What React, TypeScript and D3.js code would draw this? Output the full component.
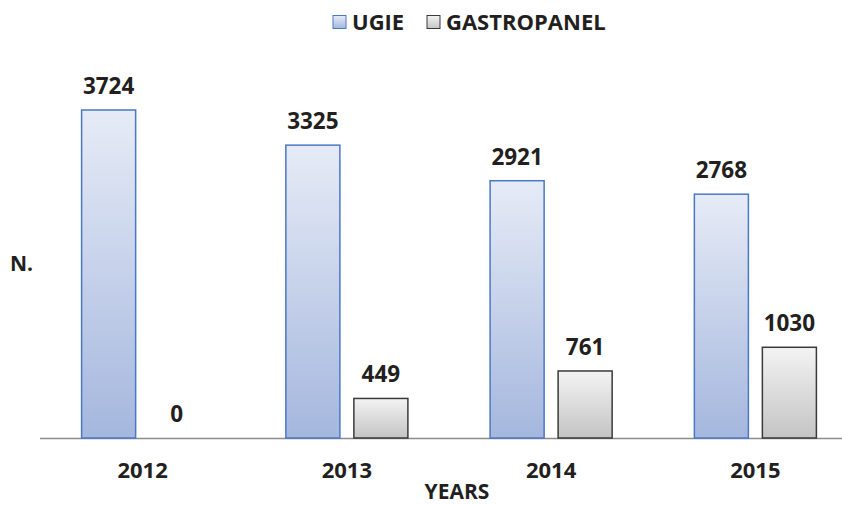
import { useRef, useEffect } from "react";
import * as d3 from "d3";

const years = ["2012", "2013", "2014", "2015"];
const series = ["UGIE", "GASTROPANEL"];
const ugieValues = [3724, 3325, 2921, 2768];
const gastroValues = [0, 449, 761, 1030];

export default function App() {
  const svgRef = useRef(null);
  const width = 842;
  const height = 505;

  useEffect(() => {
    const svg = d3.select(svgRef.current);
    svg.selectAll("*").remove();

    const font = "'Open Sans', 'Liberation Sans', sans-serif";
    const ink = "#231f20";
    const baseY = 438;

    const defs = svg.append("defs");
    const grad = (id: string, top: string, bottom: string) => {
      const g = defs
        .append("linearGradient")
        .attr("id", id)
        .attr("x1", 0)
        .attr("y1", 0)
        .attr("x2", 0)
        .attr("y2", 1);
      g.append("stop").attr("offset", "0%").attr("stop-color", top);
      g.append("stop").attr("offset", "100%").attr("stop-color", bottom);
    };
    grad("gUgie", "#e6ebf6", "#a5b7de");
    grad("gGastro", "#f3f3f3", "#c4c4c4");

    const fills = ["url(#gUgie)", "url(#gGastro)"];
    const strokes = ["#4a78c6", "#3a3a3a"];

    const x = d3.scaleBand().domain(years).range([40.5, 857.5]).padding(0);
    const x1 = d3
      .scaleBand()
      .domain(series)
      .range([0, x.bandwidth()])
      .paddingInner(0.191)
      .paddingOuter(0.597);
    const y = d3.scaleLinear().domain([0, 3724]).range([baseY, 110]);

    const data = years.map((yr, i) => ({
      year: yr,
      values: [ugieValues[i], gastroValues[i]],
    }));

    // baseline
    svg
      .append("line")
      .attr("x1", 40)
      .attr("x2", width)
      .attr("y1", baseY + 0.5)
      .attr("y2", baseY + 0.5)
      .attr("stroke", "#8c8c8c")
      .attr("stroke-width", 1.5);

    const groups = svg
      .selectAll("g.year")
      .data(data)
      .join("g")
      .attr("class", "year")
      .attr("transform", (d) => `translate(${x(d.year)},0)`);

    groups.each(function (d) {
      const g = d3.select(this);
      d.values.forEach((v, si) => {
        const bx = x1(series[si]) as number;
        if (v > 0) {
          g.append("rect")
            .attr("x", bx + 0.5)
            .attr("y", y(v))
            .attr("width", x1.bandwidth() - 1)
            .attr("height", baseY - y(v))
            .attr("fill", fills[si])
            .attr("stroke", strokes[si])
            .attr("stroke-width", 1.5);
        }
        g.append("text")
          .attr("x", bx + x1.bandwidth() / 2)
          .attr("y", y(v) - 16)
          .attr("text-anchor", "middle")
          .attr("font-family", font)
          .attr("font-weight", "bold")
          .attr("font-size", 22.5)
          .attr("fill", ink)
          .text(v);
      });
      g.append("text")
        .attr("x", x.bandwidth() / 2)
        .attr("y", 478)
        .attr("text-anchor", "middle")
        .attr("font-family", font)
        .attr("font-weight", "bold")
        .attr("font-size", 22)
        .attr("fill", ink)
        .text(d.year);
    });

    // axis titles
    svg
      .append("text")
      .attr("x", 457)
      .attr("y", 499)
      .attr("text-anchor", "middle")
      .attr("font-family", font)
      .attr("font-weight", "bold")
      .attr("font-size", 21)
      .attr("fill", ink)
      .text("YEARS");
    svg
      .append("text")
      .attr("x", 10)
      .attr("y", 271)
      .attr("font-family", font)
      .attr("font-weight", "bold")
      .attr("font-size", 21)
      .attr("fill", ink)
      .text("N.");

    // legend
    const legendItems = [
      { name: series[0], sx: 333, tx: 352 },
      { name: series[1], sx: 427, tx: 446 },
    ];
    legendItems.forEach((it, i) => {
      svg
        .append("rect")
        .attr("x", it.sx)
        .attr("y", 15.5)
        .attr("width", 13)
        .attr("height", 13)
        .attr("fill", fills[i])
        .attr("stroke", strokes[i])
        .attr("stroke-width", 1);
      svg
        .append("text")
        .attr("x", it.tx)
        .attr("y", 30)
        .attr("font-family", font)
        .attr("font-weight", "bold")
        .attr("font-size", 22)
        .attr("fill", ink)
        .text(it.name);
    });
  }, []);

  return (
    <div>
      <svg
        ref={svgRef}
        width={width}
        height={height}
        style={{ position: "absolute", left: 0, top: 0, background: "#fff" }}
      />
    </div>
  );
}
